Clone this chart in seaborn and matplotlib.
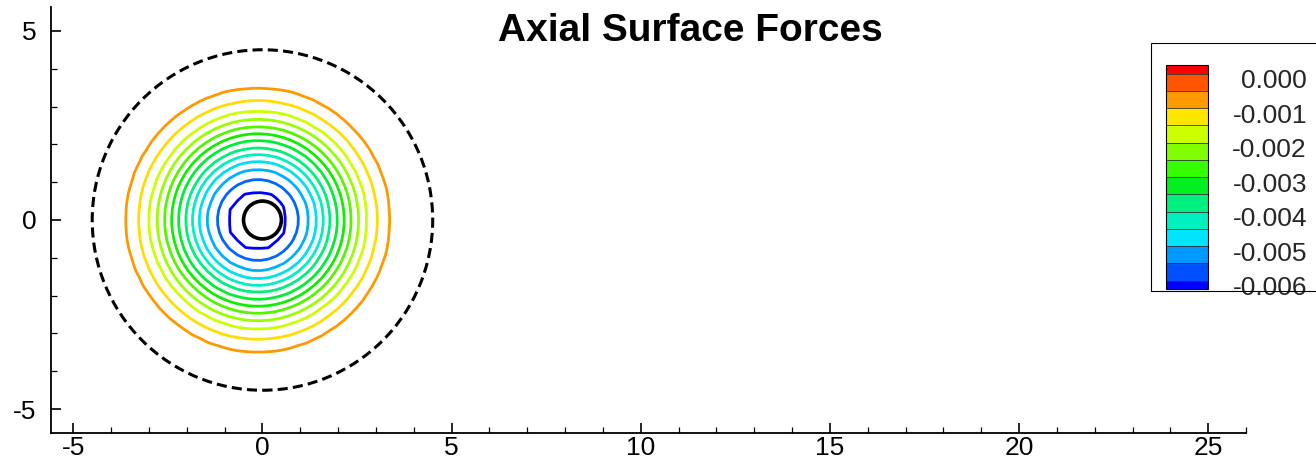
import numpy as np
import matplotlib
matplotlib.use("Agg")
import matplotlib.pyplot as plt
import seaborn as sns
from matplotlib.colors import ListedColormap, BoundaryNorm
from matplotlib.patches import Circle, Rectangle
from matplotlib.transforms import ScaledTranslation
import matplotlib.cm as cm

# ---------------- data ----------------
title = "Axial Surface Forces"

# contour rings, outer -> inner (level value, radius, colour)
ring_levels = [-0.0005, -0.0010, -0.0015, -0.0020, -0.0025, -0.0030, -0.0035,
               -0.0040, -0.0045, -0.0050, -0.0055, -0.0060, -0.0065]
ring_radii = [3.48, 3.15, 2.87, 2.66, 2.46, 2.28, 2.10, 1.90, 1.73, 1.55, 1.34, 1.07, 0.80]
ring_colors = ["#FF9900", "#FFDD00", "#CCFF00", "#99FF00", "#55F500", "#11EE00", "#00EE33",
               "#00F080", "#00F0C0", "#00E0F0", "#00B0FF", "#0066FF", "#0000FF"]
center_value = -0.0068      # field value at the ring centre (estimated)
far_radius = 3.95           # field value reaches zero here (estimated)
far_value = 0.0
contour_center_x = -0.12

body_radius = 0.5           # solid black circle
boundary_radius = 4.5       # dashed black circle

# legend (colour bands, bottom -> top)
legend_bounds = [-0.00625, -0.0060, -0.0055, -0.0050, -0.0045, -0.0040, -0.0035, -0.0030,
                 -0.0025, -0.0020, -0.0015, -0.0010, -0.0005, 0.0, 0.00025]
legend_colors = ["#0000FF", "#0050FF", "#0099FF", "#00E5FF", "#00F0C0", "#00F080", "#00F020",
                 "#33FF00", "#80FF00", "#CCFF00", "#FFE600", "#FF9900", "#FF5500", "#FF0000"]
legend_ticks = [-0.006, -0.005, -0.004, -0.003, -0.002, -0.001, 0.0]
legend_labels = ["-0.006", "-0.005", "-0.004", "-0.003", "-0.002", "-0.001", "0.000"]

x_major = [-5, 0, 5, 10, 15, 20, 25]
y_major = [-5, 0, 5]
xlim = (-5.6, 26.0)
ylim = (-5.63, 5.63)

# ---------------- style ----------------
sns.set_theme(style="ticks")
plt.rcParams['font.family'] = ['Liberation Sans', 'DejaVu Sans']

W, H = 1316, 462
fig = plt.figure(figsize=(W / 100, H / 100), dpi=100)
ax = fig.add_axes([49.7 / W, 1 - 433 / H, (1247 - 49.7) / W, (433 - 7) / H])

# field on a grid built from the read radial profile
grid = np.arange(-6.0, 6.01, 0.2) + 0.07
X, Y = np.meshgrid(grid + contour_center_x, grid)
R = np.hypot(X - contour_center_x, Y)
prof_r = [0.0] + ring_radii[::-1] + [far_radius]
prof_v = [center_value] + ring_levels[::-1] + [far_value]
Z = np.interp(R, prof_r, prof_v)

ax.contour(X, Y, Z, levels=sorted(ring_levels), colors=ring_colors[::-1], linewidths=2.0)

ax.add_patch(Circle((0, 0), body_radius, fill=False, ec="black", lw=2.6, zorder=5))
ax.add_patch(Circle((0, 0), boundary_radius, fill=False, ec="black", lw=2.2,
                    ls=(0, (3.3, 1.7)), zorder=5))

ax.set_xlim(*xlim)
ax.set_ylim(*ylim)
ax.set_aspect("equal", adjustable="box")
ax.set_xticks(x_major)
ax.set_yticks(y_major)
ax.xaxis.set_minor_locator(matplotlib.ticker.MultipleLocator(1))
ax.yaxis.set_minor_locator(matplotlib.ticker.MultipleLocator(1))
ax.set_xticklabels([str(v) for v in x_major])
ax.set_yticklabels([str(v) for v in y_major])
for s in ["top", "right"]:
    ax.spines[s].set_visible(False)
for s in ["left", "bottom"]:
    ax.spines[s].set_color("black")
    ax.spines[s].set_linewidth(1.3)
ax.tick_params(which="major", direction="in", length=7, width=1.2, colors="black",
               labelsize=19)
ax.tick_params(which="minor", direction="in", length=4.3, width=0.9, colors="black")
ax.tick_params(axis="x", which="major", pad=2)
ax.tick_params(axis="y", which="major", pad=10)
ax.grid(False)

fig.text(690 / W, 1 - 41 / H, title, ha="center", va="baseline", fontsize=28,
         fontweight="bold", color="black")

# legend frame + colour bar
fig.patches.append(Rectangle((1151 / W, 1 - 291 / H), 200 / W, (291 - 43) / H,
                             transform=fig.transFigure, fill=False, ec="black", lw=0.8))
cax = fig.add_axes([1165.7 / W, 1 - 289.3 / H, (1208.3 - 1165.7) / W, (289.3 - 65) / H])
sm = cm.ScalarMappable(norm=BoundaryNorm(legend_bounds, len(legend_colors)),
                       cmap=ListedColormap(legend_colors))
cb = fig.colorbar(sm, cax=cax, boundaries=legend_bounds, spacing="proportional",
                  ticks=legend_ticks, drawedges=True)
cb.outline.set_linewidth(0.8)
cb.outline.set_edgecolor("black")
cb.dividers.set_linewidth(0.6)
cb.dividers.set_color("#333333")
cb.set_ticklabels(legend_labels)
cax.minorticks_off()
cax.tick_params(which="both", length=0, width=0, pad=71, labelsize=19)
shift = ScaledTranslation(0, -7.5 / 100, fig.dpi_scale_trans)
for t in cax.get_yticklabels():
    t.set_ha("right")
    t.set_va("center")
    t.set_transform(t.get_transform() + shift)

fig.savefig("out.png", dpi=100, facecolor="white")
